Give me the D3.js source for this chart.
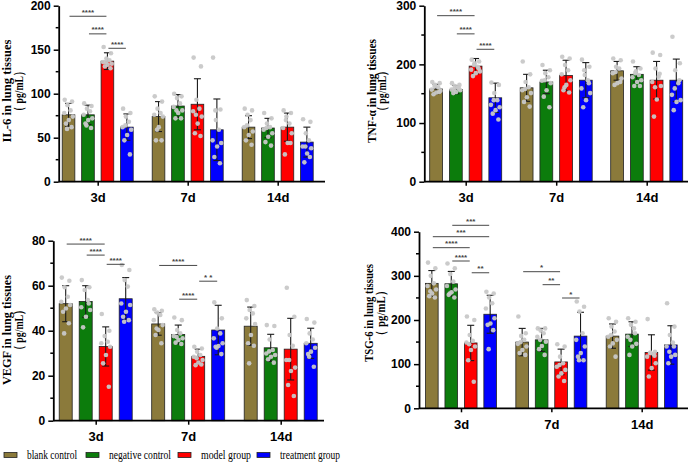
<!DOCTYPE html>
<html>
<head>
<meta charset="utf-8">
<script src="https://cdn.jsdelivr.net/npm/d3@7"></script>
<style>
  body { margin: 0; background: #fff; }
  svg { display: block; }
</style>
</head>
<body>
<div id="main"></div>
<script>
// groups (time points) and series (treatment groups)
const groups = ['3d', '7d', '14d'];
const series = ['blank control', 'negative control', 'model group', 'treatment group'];
const colors = ['#8b7a3b', '#0c7c0c', '#ff0000', '#0000ff'];

// IL-6: mean and SD per group, series order
const il6Mean = [[76, 76, 137, 62], [74, 86, 88, 59], [62, 61, 62, 45]];
const il6Sd = [[13, 11, 9.5, 15], [17, 13, 29, 35], [13, 11, 16, 17]];
// individual samples, order: 3d blank..treatment, 7d ..., 14d ...
const il6Points = [
  [93, 91, 87, 81, 78, 74, 70, 66, 62, 60],
  [89, 86, 83, 80, 76, 72, 70, 66, 61, 64],
  [153, 146, 140, 138, 136, 134, 133, 131, 129, 136],
  [83, 78, 74, 68, 62, 59, 53, 47, 31, 64],
  [97, 91, 83, 78, 76, 74, 62, 47, 47, 59],
  [100, 97, 95, 89, 85, 81, 78, 72, 72, 81],
  [141, 131, 93, 83, 80, 74, 66, 55, 52, 76],
  [141, 82, 70, 59, 47, 44, 40, 28, 21, 81],
  [83, 81, 76, 70, 62, 57, 53, 47, 42, 64],
  [78, 72, 66, 62, 59, 55, 51, 45, 41, 61],
  [81, 78, 74, 66, 61, 55, 44, 31, 44, 70],
  [71, 68, 55, 47, 40, 38, 32, 22, 28, 40]
];
const il6Ticks = [0, 50, 100, 150, 200];
const il6Sig = [
  { group: '3d', from: 0, to: 2, label: '****' },
  { group: '3d', from: 1, to: 2, label: '****' },
  { group: '3d', from: 2, to: 3, label: '****' }
];

// TNF-α
const tnfMean = [[158, 157, 197, 143], [160, 170, 181, 173], [189, 183, 173, 173]];
const tnfSd = [[8, 7, 13, 25], [23, 20, 26, 30], [16, 13, 32, 36]];
const tnfPoints = [
  [170, 168, 165, 161, 157, 155, 152, 149, 153, 163],
  [168, 165, 163, 161, 157, 156, 153, 151, 159, 158],
  [208, 205, 202, 196, 191, 188, 185, 180, 193, 199],
  [169, 165, 151, 139, 131, 127, 122, 116, 106, 139],
  [205, 183, 170, 161, 156, 151, 144, 136, 128, 158],
  [199, 190, 185, 178, 172, 168, 156, 145, 127, 173],
  [213, 210, 199, 190, 183, 173, 165, 156, 152, 161],
  [208, 196, 182, 173, 159, 151, 139, 127, 168, 190],
  [210, 207, 196, 193, 185, 176, 168, 165, 170, 187],
  [205, 193, 188, 182, 178, 173, 170, 163, 163, 185],
  [220, 216, 193, 179, 170, 163, 140, 111, 184, 161],
  [247, 202, 190, 168, 148, 139, 136, 122, 173, 159]
];
const tnfTicks = [0, 100, 200, 300];
const tnfSig = [
  { group: '3d', from: 0, to: 2, label: '****' },
  { group: '3d', from: 1, to: 2, label: '****' },
  { group: '3d', from: 2, to: 3, label: '****' }
];

// VEGF
const vegfMean = [[52, 53, 33, 54.2], [43, 38.3, 28.6, 40.3], [42, 32.4, 31.8, 34.4]];
const vegfSd = [[8, 7, 8.7, 9.4], [5, 4.2, 3.2, 11], [8.5, 6, 13.7, 6.7]];
const vegfPoints = [
  [63.6, 62.2, 59.3, 55.1, 52.9, 51.4, 49.9, 48.4, 43.3, 38.8],
  [62.5, 59.3, 58.1, 53.6, 50.4, 49.2, 46.2, 41.5, 52.1],
  [47.4, 40, 37.6, 35.1, 34.4, 32.9, 29.2, 25.5, 15.1],
  [69.2, 67, 62.5, 59.6, 52.1, 51.4, 48.4, 46.2, 44.7, 44],
  [49.5, 48.9, 48.1, 47, 44.7, 42.5, 40.3, 38.1, 34.4, 41],
  [45.9, 44.7, 40.3, 38.8, 37.6, 36.6, 35.9, 34.7, 34.1, 37.2],
  [32.9, 32.1, 30.7, 29.2, 28.4, 27, 25.9, 24.7, 25, 27.8],
  [52.6, 45.5, 41, 38.8, 36.6, 34.4, 33.2, 32.9, 29.6, 32.4],
  [53.6, 51, 49.2, 47.7, 45.5, 43, 38.1, 34.4, 33.3, 25.5],
  [42.5, 42.1, 36.1, 31.4, 29.9, 29.2, 28.4, 27.3, 25.8, 30.8],
  [59.1, 46.2, 38.1, 33.3, 27, 23.6, 22.1, 15.9, 11, 27],
  [45.2, 43.6, 38.8, 36.1, 34.4, 32.4, 30.7, 29.6, 24, 28.4]
];
const vegfTicks = [0, 20, 40, 60, 80];
const vegfSig = [
  { group: '3d', from: 0, to: 2, label: '****' },
  { group: '3d', from: 1, to: 2, label: '****' },
  { group: '3d', from: 2, to: 3, label: '****' },
  { group: '7d', from: 0, to: 2, label: '****' },
  { group: '7d', from: 2, to: 3, label: '* *' },
  { group: '7d', from: 1, to: 2, label: '****' }
];

// TSG-6
const tsgMean = [[283, 282, 148, 213], [150, 155, 105, 163.5], [163.5, 168, 126.5, 143.5]];
const tsgSd = [[29, 28, 40, 43], [31, 26, 29, 54], [27.5, 28, 40, 43.5]];
const tsgPoints = [
  [330, 317, 300, 283, 277, 269, 260, 254, 251, 265],
  [328, 317, 304, 287, 277, 269, 263, 257, 251, 260],
  [208, 200, 166, 153, 149, 140, 132, 109, 60, 145],
  [264, 260, 251, 238, 226, 204, 192, 189, 177, 134],
  [208, 170, 164, 155, 146, 140, 132, 125, 121, 150],
  [181, 181, 176, 170, 162, 151, 141, 134, 121, 155],
  [145, 140, 117, 102, 94, 87, 79, 72, 62, 98],
  [242, 230, 219, 170, 155, 140, 125, 117, 109, 109],
  [204, 196, 185, 174, 162, 155, 147, 140, 117, 166],
  [204, 196, 189, 181, 162, 146, 140, 121, 170, 155],
  [202, 128, 126, 123, 117, 102, 91, 72, 119, 125],
  [238, 185, 166, 149, 140, 121, 117, 102, 140, 128]
];
const tsgTicks = [0, 100, 200, 300, 400];
const tsgSig = [
  { group: '3d', from: 1, to: 3, label: '***' },
  { group: '3d', from: 0, to: 3, label: '***' },
  { group: '3d', from: 0, to: 2, label: '****' },
  { group: '3d', from: 1, to: 2, label: '****' },
  { group: '3d', from: 2, to: 3, label: '**' },
  { group: '7d', from: 0, to: 2, label: '*' },
  { group: '7d', from: 1, to: 2, label: '**' },
  { group: '7d', from: 2, to: 3, label: '*' }
];

// svg
const width = 690;
const height = 464;
const svg = d3.select('#main')
  .append('svg')
  .attr('width', width)
  .attr('height', height);

// horizontal spread of the sample dots inside a bar (fraction of bar width)
const jitter = [-0.3, 0.28, -0.08, 0.16, -0.34, 0.34, 0.02, -0.2, 0.24, -0.12];

function drawPanel(cfg) {
  const g = svg.append('g');
  const y = d3.scaleLinear()
    .domain([0, cfg.max])
    .range([cfg.bottom, cfg.top]);
  const x = d3.scalePoint()
    .domain(groups)
    .range([cfg.left + cfg.c0, cfg.left + cfg.c2]);
  const xs = d3.scaleBand()
    .domain(d3.range(series.length))
    .range([-cfg.half, cfg.half])
    .paddingInner(0.35);
  const bw = xs.bandwidth();
  const barX = (gi, si) => x(groups[gi]) + xs(si);

  // bars
  groups.forEach((grp, gi) => {
    series.forEach((s, si) => {
      g.append('rect')
        .attr('x', barX(gi, si))
        .attr('y', y(cfg.mean[gi][si]))
        .attr('width', bw)
        .attr('height', y(0) - y(cfg.mean[gi][si]))
        .style('fill', colors[si])
        .style('stroke', '#222')
        .style('stroke-width', 0.8);
    });
  });

  // error bars (mean ± SD)
  groups.forEach((grp, gi) => {
    series.forEach((s, si) => {
      const cx = barX(gi, si) + bw / 2;
      const m = cfg.mean[gi][si];
      const sd = cfg.sd[gi][si];
      const eg = g.append('g').style('stroke', '#1a1a1a').style('stroke-width', 1.1);
      eg.append('line').attr('x1', cx).attr('x2', cx).attr('y1', y(m - sd)).attr('y2', y(m + sd));
      eg.append('line').attr('x1', cx - 3.5).attr('x2', cx + 3.5).attr('y1', y(m + sd)).attr('y2', y(m + sd));
      eg.append('line').attr('x1', cx - 3.5).attr('x2', cx + 3.5).attr('y1', y(m - sd)).attr('y2', y(m - sd));
    });
  });

  // sample dots
  cfg.points.forEach((pts, k) => {
    const gi = Math.floor(k / series.length);
    const si = k % series.length;
    const cx = barX(gi, si) + bw / 2;
    g.selectAll(null)
      .data(pts)
      .enter()
      .append('circle')
      .attr('cx', (d, i) => cx + jitter[i % jitter.length] * bw)
      .attr('cy', d => y(d))
      .attr('r', 2.3)
      .style('fill', '#c8c8c8')
      .style('opacity', 0.95);
  });

  // y axis with minor ticks
  const yAxis = d3.axisLeft(y)
    .tickValues(cfg.ticks)
    .tickSize(5)
    .tickSizeOuter(0)
    .tickPadding(3);
  const ya = g.append('g')
    .attr('transform', `translate(${cfg.left},0)`)
    .call(yAxis);
  const step = cfg.ticks[1] - cfg.ticks[0];
  const minor = cfg.ticks.slice(0, -1).map(t => t + step / 2);
  ya.selectAll('.minor')
    .data(minor)
    .enter()
    .append('line')
    .attr('x1', -3)
    .attr('x2', 0)
    .attr('y1', d => y(d))
    .attr('y2', d => y(d))
    .style('stroke', '#000')
    .style('stroke-width', 1.5);
  ya.select('.domain').style('stroke-width', 1.8);
  ya.selectAll('.tick line').style('stroke-width', 1.5);
  ya.selectAll('text')
    .style('font-family', '"Liberation Sans", Arial, sans-serif')
    .style('font-weight', 'bold')
    .style('font-size', '12px')
    .style('fill', '#000');

  // x axis
  const xAxis = d3.axisBottom(x).tickSize(4).tickSizeOuter(0).tickPadding(7);
  const xa = g.append('g')
    .attr('transform', `translate(0,${cfg.bottom})`)
    .call(xAxis);
  xa.select('.domain')
    .attr('d', `M${cfg.left},0H${cfg.right}`)
    .style('stroke-width', 1.8);
  xa.selectAll('.tick line').style('stroke-width', 1.5);
  xa.selectAll('text')
    .style('font-family', '"Liberation Sans", Arial, sans-serif')
    .style('font-weight', 'bold')
    .style('font-size', '13px')
    .style('fill', '#000');

  // y axis label (two lines)
  cfg.label.forEach((txt, i) => {
    g.append('text')
      .attr('transform', `translate(${cfg.labelX[i]},${cfg.labelY}) rotate(-90)`)
      .attr('text-anchor', 'middle')
      .attr('textLength', cfg.labelLen[i])
      .attr('lengthAdjust', 'spacingAndGlyphs')
      .style('font-family', '"Liberation Serif", "Times New Roman", serif')
      .style('font-weight', 'bold')
      .style('font-size', '13px')
      .text(txt);
  });

  // significance brackets
  cfg.sig.forEach((s, i) => {
    const gi = groups.indexOf(s.group);
    const x1 = barX(gi, s.from) + bw / 2 + 1;
    const x2 = barX(gi, s.to) + bw / 2 - 1;
    const yy = y(cfg.sigLevels[i]);
    g.append('line')
      .attr('x1', x1)
      .attr('x2', x2)
      .attr('y1', yy)
      .attr('y2', yy)
      .style('stroke', '#333')
      .style('stroke-width', 0.9);
    g.append('text')
      .attr('x', (x1 + x2) / 2)
      .attr('y', yy - 1.5)
      .attr('text-anchor', 'middle')
      .style('font-family', '"Liberation Sans", Arial, sans-serif')
      .style('font-size', '8px')
      .style('font-weight', 'bold')
      .style('fill', '#444')
      .text(s.label);
  });
}

drawPanel({
  mean: il6Mean, sd: il6Sd, points: il6Points, ticks: il6Ticks, sig: il6Sig,
  max: 200, left: 58.7, right: 325, top: 5.7, bottom: 181.7, c0: 39, c2: 219, half: 35.5,
  label: ['IL-6 in lung tissues', '（ pg/mL）'], labelX: [11, 23], labelY: 91, labelLen: [103, 49],
  sigLevels: [188, 168, 151.6]
});
drawPanel({
  mean: tnfMean, sd: tnfSd, points: tnfPoints, ticks: tnfTicks, sig: tnfSig,
  max: 300, left: 424.3, right: 688, top: 5.7, bottom: 181.7, c0: 41.4, c2: 222.4, half: 36,
  label: ['TNF-α in lung tissues', '（ pg/mL）'], labelX: [376, 386], labelY: 91, labelLen: [104, 50],
  sigLevels: [283, 252, 225.7]
});
drawPanel({
  mean: vegfMean, sd: vegfSd, points: vegfPoints, ticks: vegfTicks, sig: vegfSig,
  max: 80, left: 53.3, right: 324, top: 240.7, bottom: 420.7, c0: 42.4, c2: 227.4, half: 36.5,
  label: ['VEGF in lung tissues', '（ pg/mL）'], labelX: [11, 23], labelY: 330, labelLen: [110, 50],
  sigLevels: [78.5, 73.6, 69.5, 69, 62, 54]
});
drawPanel({
  mean: tsgMean, sd: tsgSd, points: tsgPoints, ticks: tsgTicks, sig: tsgSig,
  max: 400, left: 419, right: 688, top: 231.7, bottom: 408.3, c0: 42, c2: 222.7, half: 35.5,
  label: ['TSG-6 in lung tissues', '（ pg/mL）'], labelX: [373, 384.5], labelY: 313, labelLen: [98, 55],
  sigLevels: [414.5, 388.7, 363.8, 333.6, 307, 309.4, 280, 249.8]
});

// legend
const legendX = [4, 86, 178, 257];
const legendLen = [50, 62, 50, 60];
const legend = svg.append('g').attr('transform', 'translate(0,455)');
series.forEach((s, i) => {
  legend.append('rect')
    .attr('x', legendX[i])
    .attr('y', -2.5)
    .attr('width', 13)
    .attr('height', 5)
    .style('fill', colors[i])
    .style('stroke', '#222')
    .style('stroke-width', 0.8);
  legend.append('text')
    .attr('x', legendX[i] + 23)
    .attr('y', 4)
    .attr('textLength', legendLen[i])
    .attr('lengthAdjust', 'spacingAndGlyphs')
    .style('font-family', '"Liberation Serif", "Times New Roman", serif')
    .style('font-size', '12px')
    .text(s);
});
</script>
</body>
</html>
